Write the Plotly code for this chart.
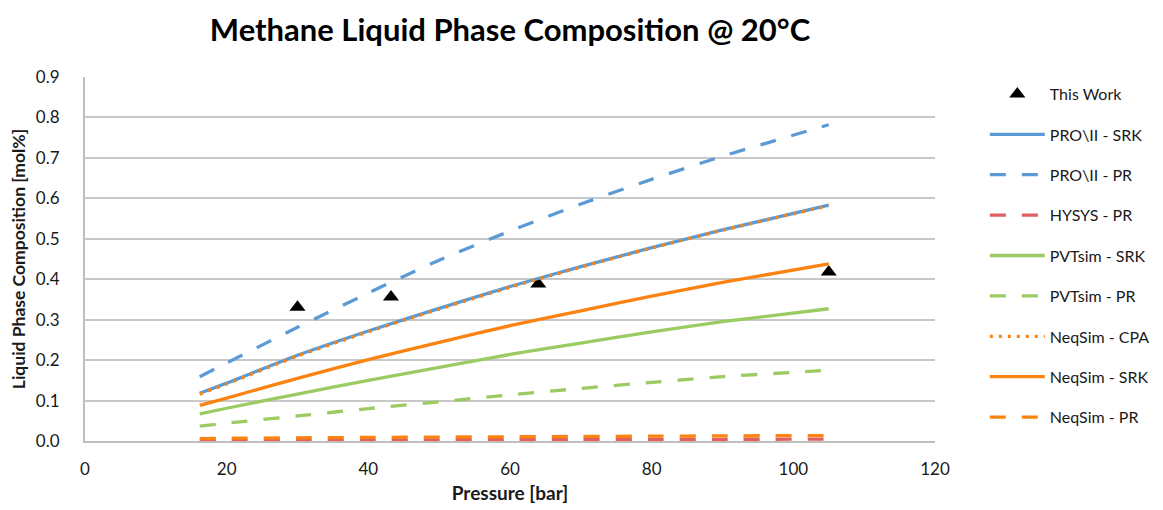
import plotly.graph_objects as go

# Measured methane liquid-phase composition
exp_pressure = [30, 43.2, 64, 105]
exp_comp = [0.331, 0.356, 0.388, 0.418]

# Model predictions on a common pressure grid [bar]
model_pressure = [16.2, 20, 30, 40, 50, 60, 70, 80, 90, 105]
proii_srk = [0.118, 0.143, 0.212, 0.272, 0.328, 0.382, 0.431, 0.478, 0.522, 0.583]
proii_pr = [0.159, 0.193, 0.281, 0.366, 0.447, 0.519, 0.586, 0.647, 0.704, 0.782]
hysys_pr = [0.001, 0.0015, 0.002, 0.0025, 0.003, 0.0033, 0.0036, 0.0039, 0.0042, 0.0045]
pvtsim_srk = [0.067, 0.081, 0.116, 0.150, 0.182, 0.214, 0.242, 0.270, 0.295, 0.327]
pvtsim_pr = [0.037, 0.044, 0.062, 0.080, 0.097, 0.114, 0.130, 0.145, 0.159, 0.175]
neqsim_cpa = [0.116, 0.141, 0.210, 0.270, 0.326, 0.380, 0.430, 0.477, 0.521, 0.582]
neqsim_srk = [0.088, 0.106, 0.155, 0.201, 0.244, 0.285, 0.322, 0.358, 0.392, 0.438]
neqsim_pr = [0.006, 0.0068, 0.0078, 0.0088, 0.0097, 0.0105, 0.0112, 0.0119, 0.0126, 0.0135]

x_ticks = [0, 20, 40, 60, 80, 100, 120]
y_ticks = [0.0, 0.1, 0.2, 0.3, 0.4, 0.5, 0.6, 0.7, 0.8, 0.9]

BLUE = "#5B9BD5"
RED = "#E0605F"
GREEN = "#9BCB62"
ORANGE = "#FB8311"
DASH = "16px,16px"
FONT = "Lato"
TEXT = "#1a1a1a"

fig = go.Figure()

fig.add_trace(go.Scatter(
    x=exp_pressure, y=exp_comp, mode="markers", name="This Work",
    marker=dict(symbol="triangle-up", size=14, color="black"),
    legendgroup="g0",
))

series = [
    ("PRO\\II - SRK", proii_srk, BLUE, "solid"),
    ("PRO\\II - PR", proii_pr, BLUE, DASH),
    ("HYSYS - PR", hysys_pr, RED, DASH),
    ("PVTsim - SRK", pvtsim_srk, GREEN, "solid"),
    ("PVTsim - PR", pvtsim_pr, GREEN, DASH),
    ("NeqSim - CPA", neqsim_cpa, ORANGE, "3px,6px"),
    ("NeqSim - SRK", neqsim_srk, ORANGE, "solid"),
    ("NeqSim - PR", neqsim_pr, ORANGE, DASH),
]

for i, (name, vals, color, dash) in enumerate(series, start=1):
    fig.add_trace(go.Scatter(
        x=model_pressure, y=vals, mode="lines", name=name,
        line=dict(color=color, width=3.3, dash=dash, shape="spline", smoothing=0.6),
        legendgroup=f"g{i}",
    ))

fig.update_layout(
    width=1163, height=510,
    margin=dict(l=85, r=228, t=77, b=69, autoexpand=False),
    paper_bgcolor="white", plot_bgcolor="white",
    font=dict(family=FONT, size=16, color=TEXT),
    title=dict(
        text="<b>Methane Liquid Phase Composition @ 20°C</b>",
        x=0.5, xref="paper", xanchor="center",
        y=1 - 30 / 510, yref="container", yanchor="middle",
        font=dict(family=FONT, size=31, color="black"),
    ),
    showlegend=True,
    legend=dict(
        x=1.0586, xanchor="left", y=1.0, yanchor="top",
        traceorder="grouped", tracegroupgap=16.6, maxheight=480, itemwidth=55,
        font=dict(family=FONT, size=16, color=TEXT),
        bgcolor="rgba(0,0,0,0)",
    ),
)

fig.update_xaxes(
    range=[0, 120], tickvals=x_ticks, showgrid=False, zeroline=False, automargin=False,
    showline=True, linecolor="#BFBFBF", linewidth=2, ticks="", ticklabelstandoff=12,
    title=dict(text="<b>Pressure [bar]</b>", font=dict(family=FONT, size=19, color=TEXT), standoff=8),
    tickfont=dict(family=FONT, size=17, color=TEXT),
)
fig.update_yaxes(
    range=[0, 0.9], tickvals=y_ticks, tickformat=".1f", showgrid=True, gridcolor="#C8C8C8",
    gridwidth=2, zeroline=False, showline=True, linecolor="#BFBFBF", linewidth=2, ticks="",
    ticklabelstandoff=20, automargin=False,
    title=dict(text="<b>Liquid Phase Composition [mol%]</b>", font=dict(family=FONT, size=17.5, color=TEXT), standoff=6),
    tickfont=dict(family=FONT, size=17, color=TEXT),
)

fig.write_html("out.html")
